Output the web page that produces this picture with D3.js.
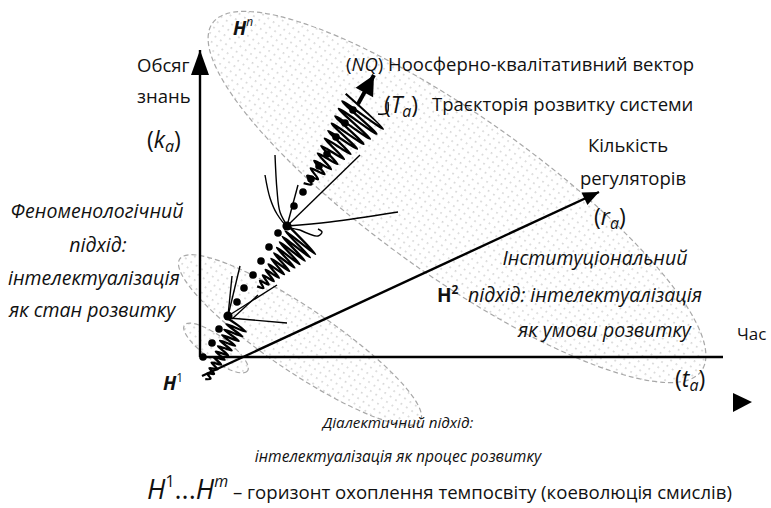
<!DOCTYPE html>
<html>
<head>
<meta charset="utf-8">
<script src="https://cdn.jsdelivr.net/npm/d3@7"></script>
<style>
body{margin:0;background:#fff}
svg text{font-family:"Open Sans",Lato,sans-serif;fill:#111;font-size:18.5px}
.it{font-style:italic}
</style>
</head>
<body>
<svg id="chart" width="771" height="508"></svg>
<script>
// diagram units: origin at the axes corner, 1 unit = 5px
var axisKnowledge=[[0,0],[0,61.4]]
var axisTime=[[0,0],[104.6,0]]
var timeArrow=[[106.6,-7.2],[106.6,-11],[110.4,-9]]
var axisRegulators=[[0.4,-3.8],[79.8,33]]
var vectorNQ=[[31.6,50.6],[34.8,56.4]]

// horizons H1..Hn : centre, half-axes, tilt (deg)
var horizons=[
	{name:"Hn",c:[51.4,32],r:[60,16],tilt:35.4},
	{name:"H2",c:[20,3.4],r:[29,6.4],tilt:34},
	{name:"H1",c:[3.2,1.8],r:[7.8,2.4],tilt:36}
]

// trajectory points (T_a)
var trajectoryDots=[[0.6,0],[2.4,2.8],[3.8,5.6],[5.6,8.2],[7.4,11],[8.8,13.8],[10.6,16.4],
	[12.2,19.2],[13.8,22],[15.6,24.8],[17.4,26.2],[18.8,30.2],[20.6,33],[22.2,35.6],
	[23.8,38.2],[25.4,40.6],[27.2,44],[29,46.8],[30.6,49.4]]
var bifurcationNodes=[[5.6,8.2],[17.4,26.2]]

// oscillation segments of the trajectory
var springs=[
	{from:[1.4,-4.6],to:[7.6,6.6],n:22,amp:[0.4,2.2]},
	{from:[11.8,13.8],to:[20.6,23.6],n:22,amp:[0.5,4]},
	{from:[21.2,34.4],to:[33.2,49.4],n:24,amp:[0.6,5.2]}
]

// fan of alternative paths at the bifurcation nodes
var fanLines=[
	[[5.6,8.2],[8,18.2]],
	[[5.6,8.2],[6.4,16.2]],
	[[5.6,8.2],[15.4,14.4]],
	[[6.4,7.6],[11.6,12.4]],
	[[5.8,7.8],[17.4,6.8]],
	[[13,36.4],[14,31.8],[15.4,28.6],[17.4,26.2],[20,25.4]],
	[[15,40.4],[15.4,33.4],[16,29],[17.6,26]],
	[[17.4,26.2],[19.6,34.4]],
	[[17.4,26.2],[32,40.4]],
	[[17.4,26.2],[26,27],[39.6,29]],
	[[20,25.4],[23.6,24.2],[24.4,25],[23.6,25.6]],
	[[37.6,51],[37.4,48.8],[35.6,48.6]]
]

var svg=d3.select("#chart")
var x=d3.scaleLinear().domain([0,100]).range([200,700])
var y=d3.scaleLinear().domain([0,100]).range([357,-143])
var P=p=>[x(p[0]),y(p[1])]
var line=d3.line().x(d=>x(d[0])).y(d=>y(d[1]))

// dotted fill
var pat=svg.append("defs").append("pattern")
	.attr("id","dots").attr("patternUnits","userSpaceOnUse")
	.attr("width",6.5).attr("height",6.5)
pat.append("rect").attr("x",2).attr("y",2).attr("width",1.4).attr("height",1.4).attr("fill","#c4c4c4")

svg.selectAll(".horizon")
	.data(horizons)
	.enter()
	.append("ellipse")
	.classed("horizon",true)
	.attr("transform",d=>`translate(${x(d.c[0])},${y(d.c[1])}) rotate(${d.tilt})`)
	.attr("rx",d=>x(d.r[0])-x(0))
	.attr("ry",d=>x(d.r[1])-x(0))
	.attr("fill","url(#dots)")
	.attr("stroke","#a8a8a8")
	.attr("stroke-width",1.2)
	.attr("stroke-dasharray","5,3")

function arrowHead(a,b,len,half){
	var p0=P(a),p1=P(b)
	var dx=p1[0]-p0[0],dy=p1[1]-p0[1],L=Math.hypot(dx,dy),ux=dx/L,uy=dy/L
	var bx=p1[0]-ux*len,by=p1[1]-uy*len
	svg.append("path")
		.attr("d",d3.line()([p1,[bx-uy*half,by+ux*half],[bx+uy*half,by-ux*half]])+"Z")
		.attr("fill","#000")
}

// axes
svg.append("path").attr("d",line(axisKnowledge)).attr("stroke","#000").attr("stroke-width",2.4).attr("fill","none")
arrowHead(axisKnowledge[0],axisKnowledge[1],25,9)
svg.append("path").attr("d",line(axisTime)).attr("stroke","#000").attr("stroke-width",2.4).attr("fill","none")
svg.append("path").attr("d",line(timeArrow)+"Z").attr("fill","#000")
svg.append("path").attr("d",line(axisRegulators)).attr("stroke","#000").attr("stroke-width",2.4).attr("fill","none")
arrowHead(axisRegulators[0],axisRegulators[1],16,7)

// springs
function springPath(s){
	var a=P(s.from),b=P(s.to)
	var dx=b[0]-a[0],dy=b[1]-a[1],L=Math.hypot(dx,dy),nx=-dy/L,ny=dx/L
	var a0=x(s.amp[0])-x(0),a1=x(s.amp[1])-x(0)
	var pts=d3.range(s.n+1).map(i=>{
		var t=i/s.n,amp=(a0+(a1-a0)*t)*(i%2?1:-1)
		return [a[0]+dx*t+nx*amp,a[1]+dy*t+ny*amp]
	})
	return d3.line().curve(d3.curveCatmullRom.alpha(0.5))(pts)
}
svg.selectAll(".spring")
	.data(springs)
	.enter()
	.append("path")
	.classed("spring",true)
	.attr("d",springPath)
	.attr("fill","none")
	.attr("stroke","#000")
	.attr("stroke-width",2.3)

svg.selectAll(".fan")
	.data(fanLines)
	.enter()
	.append("path")
	.classed("fan",true)
	.attr("d",d=>d3.line().curve(d3.curveCatmullRom).x(p=>x(p[0])).y(p=>y(p[1]))(d))
	.attr("fill","none")
	.attr("stroke","#000")
	.attr("stroke-width",1.4)

// NQ vector
svg.append("path").attr("d",line(vectorNQ)).attr("stroke","#000").attr("stroke-width",4)
arrowHead(vectorNQ[0],vectorNQ[1],20,10)

svg.selectAll(".dot")
	.data(trajectoryDots)
	.enter()
	.append("circle")
	.classed("dot",true)
	.attr("cx",d=>x(d[0]))
	.attr("cy",d=>y(d[1]))
	.attr("r",3.8)
	.attr("fill","#000")
svg.selectAll(".node")
	.data(bifurcationNodes)
	.enter()
	.append("circle")
	.attr("cx",d=>x(d[0]))
	.attr("cy",d=>y(d[1]))
	.attr("r",4.6)
	.attr("fill","#000")

// labels
function label(px,py,parts,opts){
	opts=opts||{}
	var t=svg.append("text").attr("x",px).attr("y",py)
		.attr("text-anchor",opts.anchor||"start")
	if(opts.size) t.style("font-size",opts.size+"px")
	if(opts.italic) t.classed("it",true)
	parts.forEach(p=>{
		if(typeof p==="string"){t.append("tspan").text(p);return}
		var s=t.append("tspan").text(p.t)
		if(p.i) s.style("font-style","italic")
		if(p.b) s.style("font-weight","bold")
		if(p.size) s.style("font-size",p.size+"px")
		if(p.dy) s.attr("dy",p.dy)
	})
	return t
}
var big=23,itSize=19.5
label(137,72,["Обсяг"])
label(137,103,["знань"])
label(147,148,["(",{t:"k",i:1},{t:"a",i:1,size:16,dy:4},{t:")",dy:-4}],{size:big})
label(233,35,[{t:"H",i:1,b:1},{t:"n",i:1,size:12,dy:-9}],{size:19})
label(346,71,["(",{t:"NQ",i:1},") Ноосферно-квалітативний вектор"])
label(384,113,["(",{t:"T",i:1},{t:"a",i:1,size:16,dy:4},{t:")",dy:-4}],{size:big})
label(432,111,["Траєкторія розвитку системи"])
label(628,152,["Кількість"],{anchor:"middle"})
label(633,185,["регуляторів"],{anchor:"middle"})
label(594,225,["(",{t:"r",i:1},{t:"a",i:1,size:16,dy:4},{t:")",dy:-4}],{size:big})
label(595,265,["Інституціональний"],{anchor:"middle",italic:1,size:itSize})
label(437,302,[{t:"H",b:1},{t:"2",b:1,size:12,dy:-8}],{size:19})
label(468,302,["підхід: інтелектуалізація"],{italic:1,size:itSize})
label(518,337,["як умови розвитку"],{italic:1,size:itSize})
label(737,340,["Час"],{size:17})
label(675,387,["(",{t:"t",i:1},{t:"a",i:1,size:16,dy:4},{t:")",dy:-4}],{size:big})
label(97,218,["Феноменологічний"],{anchor:"middle",italic:1,size:itSize})
label(98,252,["підхід:"],{anchor:"middle",italic:1,size:itSize})
label(8,285,["інтелектуалізація"],{italic:1,size:itSize})
label(9,317,["як стан розвитку"],{italic:1,size:itSize})
label(163,390,[{t:"H",i:1,b:1},{t:"1",size:12,dy:-8}],{size:19})
label(398,428,["Діалектичний підхід:"],{anchor:"middle",italic:1,size:15.2})
label(398,462,["інтелектуалізація як процес розвитку"],{anchor:"middle",italic:1,size:15.6})
label(147,499,[{t:"H",i:1,size:27},{t:"1",size:16,dy:-12},{t:"...",size:27,dy:12},{t:"H",i:1,size:27},{t:"m",i:1,size:16,dy:-12},
	{t:" – горизонт охоплення темпосвіту (коеволюція смислів)",size:18.6,dy:12}])
</script>
</body>
</html>
